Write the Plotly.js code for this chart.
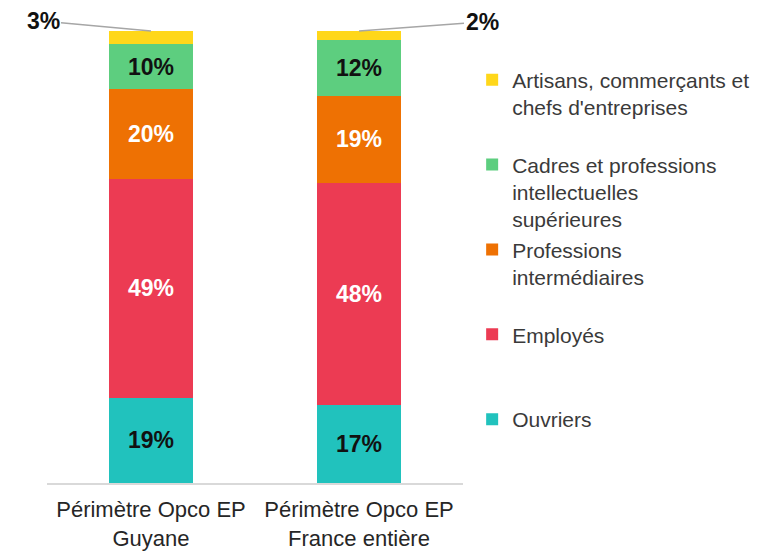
<!DOCTYPE html>
<html>
<head>
<meta charset="utf-8">
<script src="https://cdn.plot.ly/plotly-3.0.1.min.js"></script>
<style>html,body{margin:0;padding:0;background:#fff;}#chart{width:774px;height:552px;}</style>
</head>
<body>
<div id="chart"></div>
<script>
const categories = ['Périmètre Opco EP<br>Guyane', 'Périmètre Opco EP<br>France entière'];
const seriesNames = ['Ouvriers', 'Employés', 'Professions<br>intermédiaires', 'Cadres et professions<br>intellectuelles<br>supérieures', "Artisans, commerçants et<br>chefs d'entreprises"];
const ouvriers = [19, 17];
const employes = [49, 48];
const profInter = [20, 19];
const cadres = [10, 12];
const artisans = [3, 2];

const seriesValues = [ouvriers, employes, profInter, cadres, artisans];
const colors = ['#21C2BD', '#EC3B53', '#EE7103', '#5DCE7F', '#FFD71A'];
const labelColors = ['#111111', '#ffffff', '#ffffff', '#111111', '#111111'];
const FONT = 'Liberation Sans, Arial, sans-serif';

function padLines(name, n) {
  const count = name.split('<br>').length;
  let s = name;
  for (let i = count; i < n; i++) s += '<br> ';
  return s;
}

const traces = seriesValues.map((vals, i) => ({
  type: 'bar',
  x: categories,
  y: vals,
  name: padLines(seriesNames[i], 3),
  legendgroup: 'g' + i,
  marker: {color: colors[i]},
  text: vals.map(v => v + '%'),
  textposition: i === 4 ? 'none' : 'inside',
  insidetextanchor: 'middle',
  textangle: 0,
  constraintext: 'none',
  insidetextfont: {family: FONT, size: 23, color: labelColors[i], weight: 'bold'},
  hoverinfo: 'skip'
}));

const annOffsets = [[-108, -10], [123, -9]];
const annotations = categories.map((c, j) => ({
  x: c, y: 100, xref: 'x', yref: 'y',
  text: '<b>' + artisans[j] + '%</b>',
  showarrow: true, arrowhead: 0, arrowwidth: 1.5, arrowcolor: '#a6a6a6',
  ax: annOffsets[j][0], ay: annOffsets[j][1],
  font: {family: FONT, size: 23, color: '#111111'}
}));

const layout = {
  width: 774, height: 552,
  margin: {l: 47, r: 310.5, t: 31, b: 69},
  paper_bgcolor: '#ffffff', plot_bgcolor: '#ffffff',
  barmode: 'stack', barnorm: 'percent', bargap: 0.596,
  showlegend: true,
  legend: {
    x: 1.022, y: 0.937, xanchor: 'left', yanchor: 'top',
    traceorder: 'reversed', valign: 'top', tracegroupgap: 0,
    font: {family: FONT, size: 21, color: '#3a3a3a'},
    bgcolor: 'rgba(0,0,0,0)'
  },
  xaxis: {
    type: 'category', range: [-0.5, 1.5], autorange: false,
    showline: true, linecolor: '#d9d9d9', linewidth: 1.5,
    ticks: '', tickangle: 0, showgrid: false, zeroline: false,
    ticklabelstandoff: 6,
    tickfont: {family: FONT, size: 22, color: '#262626'}
  },
  yaxis: {range: [0, 100], autorange: false, visible: false, showgrid: false, zeroline: false},
  annotations: annotations,
  hovermode: false
};

Plotly.newPlot('chart', traces, layout, {displayModeBar: false, staticPlot: true});
</script>
</body>
</html>
